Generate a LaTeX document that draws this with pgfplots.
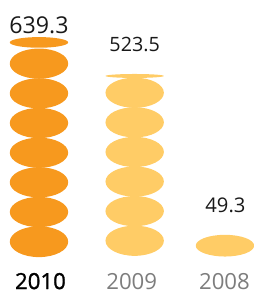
\documentclass[border=0pt]{standalone}
\usepackage{pgfplots}
\usepackage{pgfplotstable}
\pgfplotsset{compat=1.18}
\usepackage{fontspec}
\setmainfont{Open Sans}
\newfontfamily\semifont[FakeBold=1.2]{Open Sans}
\definecolor{cDark}{RGB}{247,153,30}
\definecolor{cLight}{RGB}{255,204,102}
\definecolor{cGray}{RGB}{125,125,125}
\definecolor{cText}{RGB}{25,25,25}
% ellipse centres (x, y) and vertical semi-axis ry, in the picture's units
\pgfplotstableread{
x y ry
39.5 50 15.6
39.5 80.1 15.3
39.5 110.2 15.3
39.5 140.2 15.3
39.5 170.3 15.3
39.5 200.4 15.3
39.5 230.5 15.3
39.5 252 5.4
}\tenA
\pgfplotstableread{
x y ry
136.5 51 15.3
136.5 81 15.3
136.5 111 15.3
136.5 141 15.3
136.5 171 15.3
136.5 201 15.3
136.5 218 2.0
}\nineA
\pgfplotstableread{
x y ry
228 46 11
}\eightA
\pgfdeclareplotmark{ell}{%
  \pgfpathellipse{\pgfpointorigin}{\pgfqpoint{29.6pt}{0pt}}{\pgfpoint{0pt}{\ery pt}}%
  \pgfusepathqfill}
\begin{document}
\begin{tikzpicture}
\begin{axis}[
  x=1pt, y=1pt, xmin=0, xmax=257, ymin=-4, ymax=295,
  scale only axis, hide axis, clip=false,
]
\addplot[scatter, only marks, mark=ell,
  visualization depends on={\thisrow{ry} \as \ery},
  scatter/use mapped color={draw=none, fill=cDark}] table[x=x,y=y] {\tenA};
\addplot[scatter, only marks, mark=ell,
  visualization depends on={\thisrow{ry} \as \ery},
  scatter/use mapped color={draw=none, fill=cLight}] table[x=x,y=y] {\nineA};
\addplot[scatter, only marks, mark=ell,
  visualization depends on={\thisrow{ry} \as \ery},
  scatter/use mapped color={draw=none, fill=cLight}] table[x=x,y=y] {\eightA};
\node[anchor=base, inner sep=0pt, text=cText, font=\fontsize{23.5}{26}\selectfont] at (axis cs:39.5,261) {639.3};
\node[anchor=base, inner sep=0pt, text=cText, font=\fontsize{20}{24}\selectfont] at (axis cs:136.5,243) {523.5};
\node[anchor=base, inner sep=0pt, text=cText, font=\fontsize{20.5}{24}\selectfont] at (axis cs:228.5,80) {49.3};
\node[anchor=base, inner sep=0pt, text=black, font=\fontsize{22.5}{26}\selectfont\semifont] at (axis cs:41,2) {2010};
\node[anchor=base, inner sep=0pt, text=cGray, font=\fontsize{22.5}{26}\selectfont] at (axis cs:133.5,2) {2009};
\node[anchor=base, inner sep=0pt, text=cGray, font=\fontsize{22.5}{26}\selectfont] at (axis cs:227.5,2) {2008};
\end{axis}
\pgfresetboundingbox
\useasboundingbox (current axis.south west) rectangle (current axis.north east);
\end{tikzpicture}
\end{document}
